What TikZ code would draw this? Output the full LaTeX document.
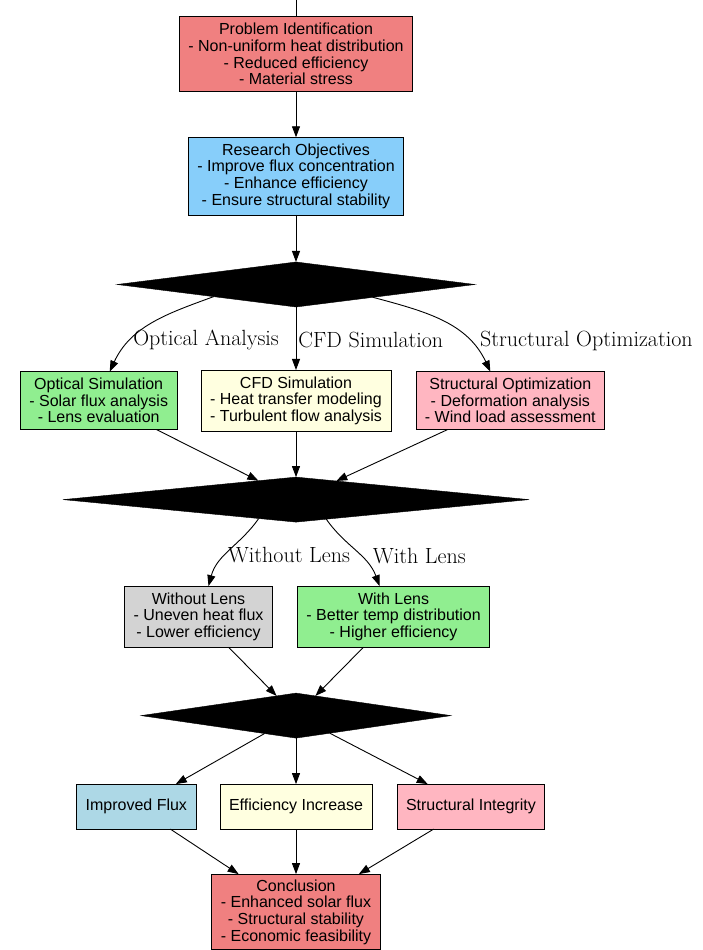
\documentclass[tikz,border=0pt]{standalone}
\usepackage{fontspec}
\newfontfamily\boxfont{Liberation Sans}
\usepackage{tikz}
\usetikzlibrary{arrows.meta,positioning,shapes.geometric,calc}
\usepackage{xcolor}
\definecolor{lightcoral}{HTML}{F08080}
\definecolor{skyblue}{HTML}{87CEFA}
\definecolor{paleblue}{HTML}{ADD8E6}
\definecolor{palegreen}{HTML}{90EE90}
\definecolor{paleyellow}{HTML}{FFFFE0}
\definecolor{palepink}{HTML}{FFB6C1}
\definecolor{palegray}{HTML}{D3D3D3}

\begin{document}
\begin{tikzpicture}[
    x=1pt, y=1pt,
    node distance=47pt and 24pt,
    block/.style={draw=black, line width=0.9pt, rectangle, align=center, inner xsep=9pt, inner ysep=6.5pt, outer sep=0pt, font=\boxfont\fontsize{16}{16.6}\selectfont},
    gate/.style={draw=black, fill=black, diamond, inner sep=0pt, outer sep=0pt, minimum height=45pt},
    arrow/.style={-{Triangle[length=11pt,width=8pt]}, line width=0.9pt},
    edgelabel/.style={font=\fontsize{22}{24}\selectfont, inner sep=2pt}
]
  \useasboundingbox (0,0) rectangle (703,-950);
  \clip (0,0) rectangle (703,-950);

  % Nodes
  \coordinate (entry) at (296,0);
  \node (problem) [block, fill=lightcoral] at (296,-54) {Problem Identification\\- Non-uniform heat distribution\\- Reduced efficiency\\- Material stress};
  \node (objectives) [block, fill=skyblue, below=46pt of problem] {Research Objectives\\- Improve flux concentration\\- Enhance efficiency\\- Ensure structural stability};
  \node (split) [gate, minimum width=358pt, below=47pt of objectives] {};

  \node (cfd) [block, fill=paleyellow, below=63pt of split] {CFD Simulation\\- Heat transfer modeling\\- Turbulent flow analysis};
  \node (optical) [block, fill=palegreen, left=of cfd] {Optical Simulation\\- Solar flux analysis\\- Lens evaluation};
  \node (structural) [block, fill=palepink, right=25pt of cfd] {Structural Optimization\\- Deformation analysis\\- Wind load assessment};

  \node (compare) [gate, minimum width=466pt, below=46pt of cfd] {};

  \node (nolens) [block, fill=palegray, below=64pt of compare, xshift=-97.5pt] {Without Lens\\- Uneven heat flux\\- Lower efficiency};
  \node (lens) [block, fill=palegreen, right=25pt of nolens] {With Lens\\- Better temp distribution\\- Higher efficiency};

  \node (merge) [gate, minimum width=310pt, below=171pt of compare] {};

  \node (efficiency) [block, fill=paleyellow, minimum height=45pt, below=46pt of merge] {Efficiency Increase};
  \node (flux) [block, fill=paleblue, minimum height=45pt, left=of efficiency] {Improved Flux};
  \node (integrity) [block, fill=palepink, minimum height=45pt, right=25pt of efficiency] {Structural Integrity};

  \node (conclusion) [block, fill=lightcoral, inner ysep=5.5pt, below=45pt of efficiency] {Conclusion\\- Enhanced solar flux\\- Structural stability\\- Economic feasibility};

  % Arrows
  \draw [line width=0.9pt] (entry) -- (problem);
  \draw [arrow] (problem) -- (objectives);
  \draw [arrow] (objectives) -- (split);

  \draw [arrow] ($(split.south)!0.46!(split.west)$) to[out=200, in=65] node[edgelabel, anchor=west, pos=0.72] {Optical Analysis} ([xshift=11pt]optical.north);
  \draw [arrow] (split) -- node[edgelabel, right, pos=0.52] {CFD Simulation} (cfd);
  \draw [arrow] ($(split.south)!0.43!(split.east)$) to[out=-15, in=115] node[edgelabel, anchor=west, pos=0.75, xshift=8pt] {Structural Optimization} ([xshift=-20pt]structural.north);

  \draw [arrow] (optical) -- (compare);
  \draw [arrow] (cfd) -- (compare);
  \draw [arrow] (structural) -- (compare);

  \draw [arrow] ($(compare.south)!0.16!(compare.west)$) to[out=235, in=75] node[edgelabel, anchor=west, pos=0.58] {Without Lens} ([xshift=10pt]nolens.north);
  \draw [arrow] ($(compare.south)!0.13!(compare.east)$) to[out=-55, in=110] node[edgelabel, anchor=west, pos=0.58, xshift=10pt] {With Lens} ([xshift=-14pt]lens.north);

  \draw [arrow] (nolens) -- (merge);
  \draw [arrow] (lens) -- (merge);

  \draw [arrow] (merge) -- (flux);
  \draw [arrow] (merge) -- (efficiency);
  \draw [arrow] (merge) -- (integrity);

  \draw [arrow] (flux) -- (conclusion);
  \draw [arrow] (efficiency) -- (conclusion);
  \draw [arrow] (integrity) -- (conclusion);

\end{tikzpicture}
\end{document}
